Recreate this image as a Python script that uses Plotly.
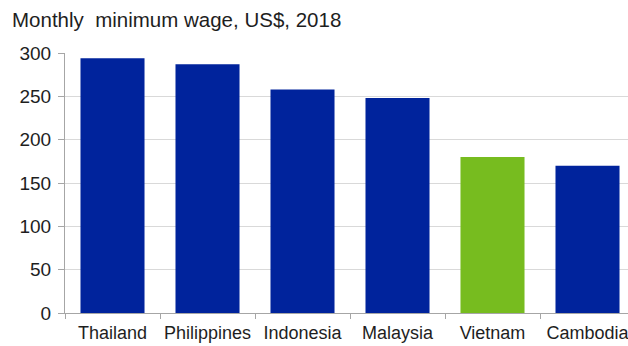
import plotly.graph_objects as go

countries = ["Thailand", "Philippines", "Indonesia", "Malaysia", "Vietnam", "Cambodia"]
wages = [294, 287, 258, 248, 180, 170]
bar_colors = ["#00239C", "#00239C", "#00239C", "#00239C", "#77BC1F", "#00239C"]
y_ticks = [0, 50, 100, 150, 200, 250, 300]
title_text = "Monthly  minimum wage, US$, 2018"

fig = go.Figure(go.Bar(x=countries, y=wages, marker=dict(color=bar_colors, line=dict(width=0)),
                       width=0.674))

fig.update_layout(
    width=628, height=346,
    margin=dict(l=65, r=0, t=53, b=33),
    paper_bgcolor="white", plot_bgcolor="white",
    showlegend=False,
    font=dict(family="Liberation Sans, Arial, sans-serif", color="#1e1e1e"),
    annotations=[dict(text=title_text, xref="paper", yref="paper", x=-55/563, y=1 + (53-19)/260,
                      xanchor="left", yanchor="middle", showarrow=False,
                      font=dict(size=20.5, color="#1e1e1e"))],
)
fig.update_xaxes(
    range=[-0.5, -0.5 + 563/95], showline=True, linecolor="#A6A6A6", linewidth=1,
    ticks="outside", tickson="boundaries", ticklen=5, tickcolor="#A6A6A6",
    tickangle=0, automargin=False, ticklabelstandoff=3,
    tickfont=dict(size=18, color="#1e1e1e"), showgrid=False, fixedrange=True,
)
fig.update_yaxes(
    range=[0, 300], tickvals=y_ticks, showline=True, linecolor="#A6A6A6", linewidth=1,
    ticks="outside", ticklen=6, tickcolor="#A6A6A6", ticklabelstandoff=3, automargin=False,
    showgrid=True, gridcolor="#D9D9D9", gridwidth=1, zeroline=False,
    tickfont=dict(size=19, color="#1e1e1e"),
)
fig.write_html("out.html")
